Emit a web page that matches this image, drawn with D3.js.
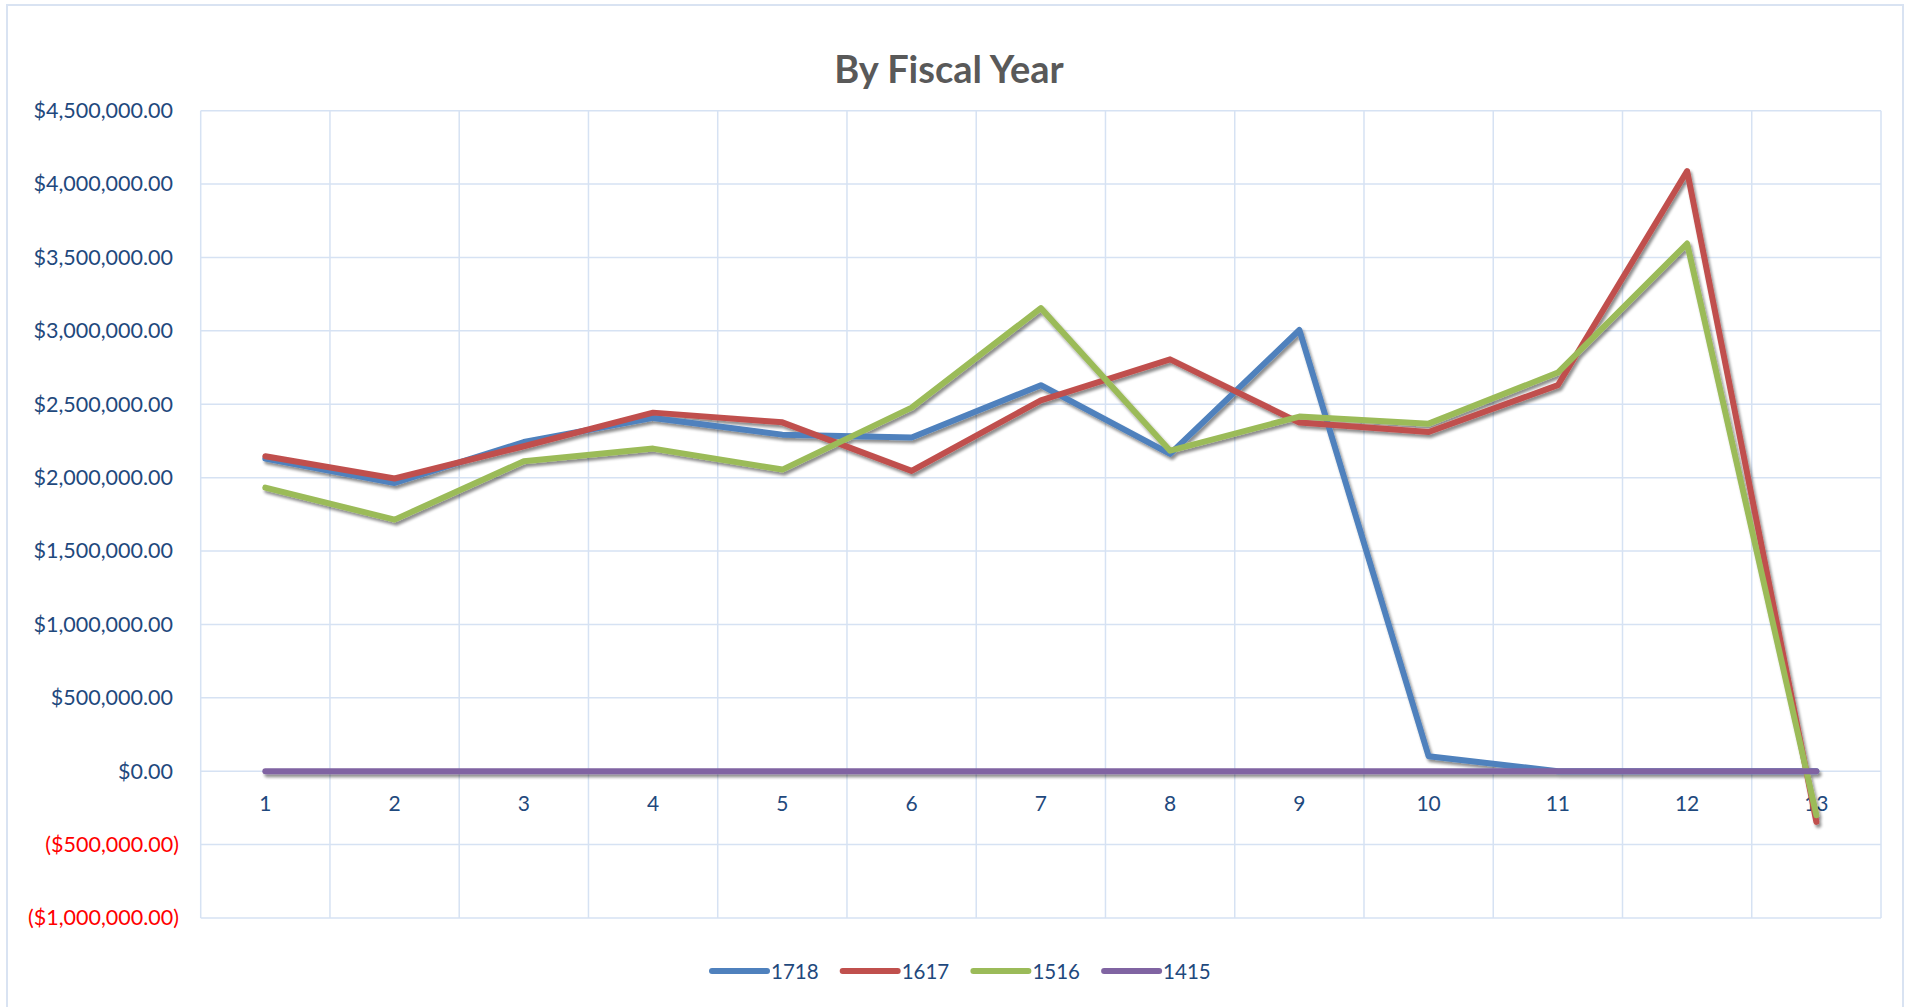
<!DOCTYPE html>
<html>
<head>
<meta charset="utf-8">
<script src="https://cdn.jsdelivr.net/npm/d3@7"></script>
<style>
  html, body { margin: 0; padding: 0; background: #fff; }
  svg { display: block; }
  text { font-family: Lato, "Open Sans", sans-serif; }
</style>
</head>
<body>
<svg id="chart" width="1913" height="1007"></svg>
<script>
// Fiscal periods 1..13
const periods = [1, 2, 3, 4, 5, 6, 7, 8, 9, 10, 11, 12, 13];

// Totals per period for each fiscal year
const fy1718 = [2130000, 1964000, 2243000, 2407000, 2293000, 2273000, 2630000, 2162000, 3006000, 102000, 0, 0, 0];
const fy1617 = [2146000, 1994000, 2214000, 2443000, 2377000, 2046000, 2527000, 2806000, 2375000, 2311000, 2630000, 4089000, -345000];
const fy1516 = [1932000, 1714000, 2112000, 2198000, 2055000, 2477000, 3155000, 2184000, 2416000, 2368000, 2716000, 3595000, -300000];
const fy1415 = [0, 0, 0, 0, 0, 0, 0, 0, 0, 0, 0, 0, 0];

const seriesNames = ["1718", "1617", "1516", "1415"];
const seriesValues = [fy1718, fy1617, fy1516, fy1415];
const seriesColors = ["#4F81BD", "#C0504D", "#9BBB59", "#8064A2"];

const yTicks = [-1000000, -500000, 0, 500000, 1000000, 1500000, 2000000, 2500000, 3000000, 3500000, 4000000, 4500000];

const svg = d3.select("#chart");
const plot = { left: 200.7, right: 1881, top: 110.7, bottom: 918 };
const gridColor = "#D6E2F3";

// outer chart frame
svg.append("rect")
  .attr("x", 7).attr("y", 5).attr("width", 1896).attr("height", 1010)
  .attr("fill", "#fff").attr("stroke", "#D9E3F2").attr("stroke-width", 2);

const x = d3.scaleBand().domain(periods).range([plot.left, plot.right]).padding(0);
const y = d3.scaleLinear().domain([-1000000, 4500000]).range([plot.bottom, plot.top]);

const fmt = d3.format(",.2f");
const money = v => v < 0 ? "($" + fmt(-v) + ")" : "$" + fmt(v);

// drop shadow for series lines
const defs = svg.append("defs");
const f = defs.append("filter").attr("id", "shadow")
  .attr("x", "-5%").attr("y", "-5%").attr("width", "110%").attr("height", "110%");
f.append("feGaussianBlur").attr("in", "SourceAlpha").attr("stdDeviation", 1.8).attr("result", "b");
f.append("feOffset").attr("in", "b").attr("dx", 2).attr("dy", 3).attr("result", "o");
f.append("feComponentTransfer").attr("in", "o").attr("result", "s")
  .append("feFuncA").attr("type", "linear").attr("slope", 0.45);
const m = f.append("feMerge");
m.append("feMergeNode").attr("in", "s");
m.append("feMergeNode").attr("in", "SourceGraphic");

// horizontal gridlines
svg.append("g").selectAll("line").data(yTicks).join("line")
  .attr("x1", plot.left).attr("x2", plot.right)
  .attr("y1", d => y(d)).attr("y2", d => y(d))
  .attr("stroke", gridColor).attr("stroke-width", 1.5);

// vertical gridlines at category boundaries
const bounds = periods.map(p => x(p)).concat([x(periods[periods.length - 1]) + x.bandwidth()]);
svg.append("g").selectAll("line").data(bounds).join("line")
  .attr("x1", d => d).attr("x2", d => d)
  .attr("y1", plot.top).attr("y2", plot.bottom)
  .attr("stroke", gridColor).attr("stroke-width", 1.5);

// y axis labels
const yAxis = d3.axisLeft(y).tickValues(yTicks).tickSize(0).tickPadding(0).tickFormat(money);
const gy = svg.append("g").attr("transform", `translate(179,0)`).call(yAxis);
gy.select(".domain").remove();
gy.selectAll("text")
  .attr("font-size", 21.5)
  .attr("fill", d => d < 0 ? "#FF0000" : "#1F497D")
  .attr("dx", d => d < 0 ? 0 : -6);

// x axis labels just below the zero line
const xAxis = d3.axisBottom(x).tickSize(0).tickPadding(0);
const gx = svg.append("g").attr("transform", `translate(0,${y(0) + 24.5})`).call(xAxis);
gx.select(".domain").remove();
gx.selectAll("text").attr("font-size", 21).attr("fill", "#1F497D");

// series lines
const line = d3.line()
  .x((d, i) => x(periods[i]) + x.bandwidth() / 2)
  .y(d => y(d));

svg.append("g").attr("filter", "url(#shadow)")
  .selectAll("path").data(seriesValues).join("path")
  .attr("d", d => line(d))
  .attr("fill", "none")
  .attr("stroke", (d, i) => seriesColors[i])
  .attr("stroke-width", 6)
  .attr("stroke-linejoin", "round")
  .attr("stroke-linecap", "round");

// title
svg.append("text")
  .attr("x", 949).attr("y", 83)
  .attr("text-anchor", "middle")
  .attr("font-size", 38).attr("font-weight", "bold")
  .attr("fill", "#595959")
  .text("By Fiscal Year");

// legend
const legend = svg.append("g");
const items = legend.selectAll("g").data(seriesNames).join("g")
  .attr("transform", (d, i) => `translate(${712 + i * 130.7},971)`);
items.append("line")
  .attr("x1", 0).attr("x2", 55).attr("y1", 0).attr("y2", 0)
  .attr("stroke", (d, i) => seriesColors[i])
  .attr("stroke-width", 6).attr("stroke-linecap", "round");
items.append("text")
  .attr("x", 59).attr("y", 7.5)
  .attr("font-size", 20.5).attr("fill", "#1F497D")
  .text(d => d);
</script>
</body>
</html>
